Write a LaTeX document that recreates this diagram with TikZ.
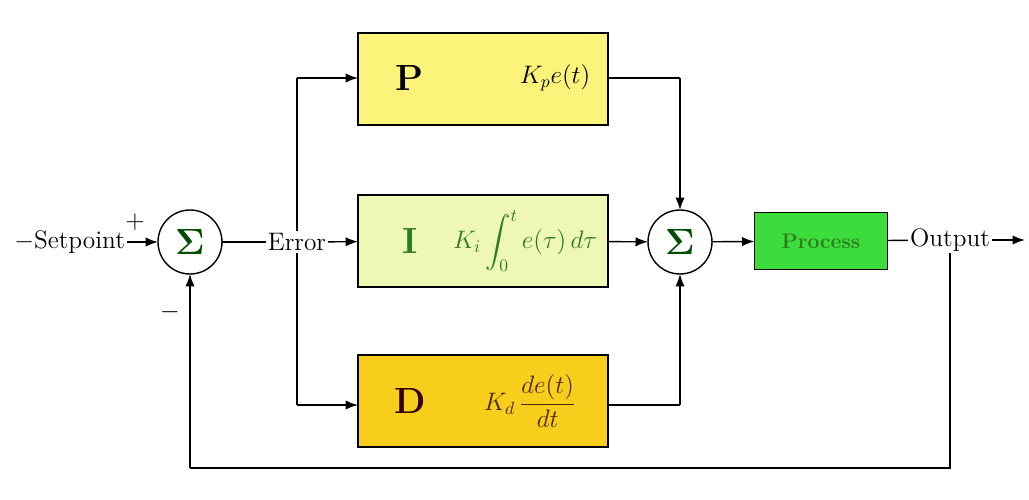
\documentclass[tikz,border=0pt]{standalone}
\usepackage{amsmath,bm}
\usetikzlibrary{arrows.meta}
\definecolor{pyel}{HTML}{FCF47A}
\definecolor{igrn}{HTML}{EEF7B4}
\definecolor{dgold}{HTML}{F8CE1C}
\definecolor{procg}{HTML}{3CDC3C}
\definecolor{ftxt}{HTML}{2E7D1E}
\tikzset{
	blk/.style = {draw, thick, minimum width=5cm, minimum height=1.84cm,
		inner sep=0pt, outer sep=0pt},
	sum/.style = {draw, thick, circle, minimum size=1.28cm, inner sep=0pt,
		outer sep=0pt, font=\huge, text=black!70!green},
	sig/.style = {-{Latex[length=2.5mm]}, thick},
	wire/.style = {thick}
}
\begin{document}
\begin{tikzpicture}[x=0.02cm, y=-0.02cm, font=\Large]
\useasboundingbox (0,0) rectangle (1029,500);
\node[sum] (s1) at (190,242) {$\bm\Sigma$};
\node[sum] (s2) at (680,242) {$\bm\Sigma$};
\node[blk, fill=pyel] (p) at (483,79) {};
\node[blk, fill=igrn] (i) at (483,241) {};
\node[blk, fill=dgold] (d) at (483,401) {};
\node[draw, thick, fill=procg, minimum width=2.66cm, minimum height=1.14cm,
	inner sep=0pt, outer sep=0pt, font=\large\bfseries, text=ftxt] (proc) at (821,241) {Process};

\node[font=\huge\bfseries] at (410,78) {P};
\node at (555,78) {$K_p e(t)$};
\node[font=\huge\bfseries, text=ftxt] at (410,241) {I};
\node[text=ftxt] at (525,241) {$K_i\displaystyle\int_0^t e(\tau)\,d\tau$};
\node[font=\huge\bfseries, text=black!80!red] at (410,401) {D};
\node[text=black!70!orange] at (530,401) {$K_d\,\dfrac{de(t)}{dt}$};

\node[anchor=east, inner sep=1pt] (sp) at (127,242) {$-$Setpoint};
\node[inner sep=1pt] (err) at (297,242) {Error};
\node[inner sep=1pt] (out) at (950,240) {Output};
\node at (135,222) {$+$};
\node at (170,312) {$-$};
\coordinate (end) at (1025,240);
\coordinate (bt) at (297,78);
\coordinate (bb) at (297,405);
\coordinate (fb1) at (950,468);
\coordinate (fb2) at (190,468);
\coordinate (pc) at (680,78);
\coordinate (dc) at (680,405);

\draw[sig] (sp) -- (s1);
\draw[wire] (s1) -- (err);
\draw[sig] (err) -- (i);
\draw[wire] (err) -- (bt);
\draw[wire] (err) -- (bb);
\draw[sig] (bt) -- (p.west |- bt);
\draw[sig] (bb) -- (d.west |- bb);
\draw[wire] (p.east |- pc) -- (pc);
\draw[sig] (pc) -- (s2);
\draw[wire] (d.east |- dc) -- (dc);
\draw[sig] (dc) -- (s2);
\draw[sig] (i) -- (s2);
\draw[sig] (s2) -- (proc);
\draw[wire] (proc) -- (out);
\draw[sig] (out) -- (end);
\draw[wire] (out.south) -- (fb1) -- (fb2);
\draw[sig] (fb2) -- (s1);
\end{tikzpicture}
\end{document}
